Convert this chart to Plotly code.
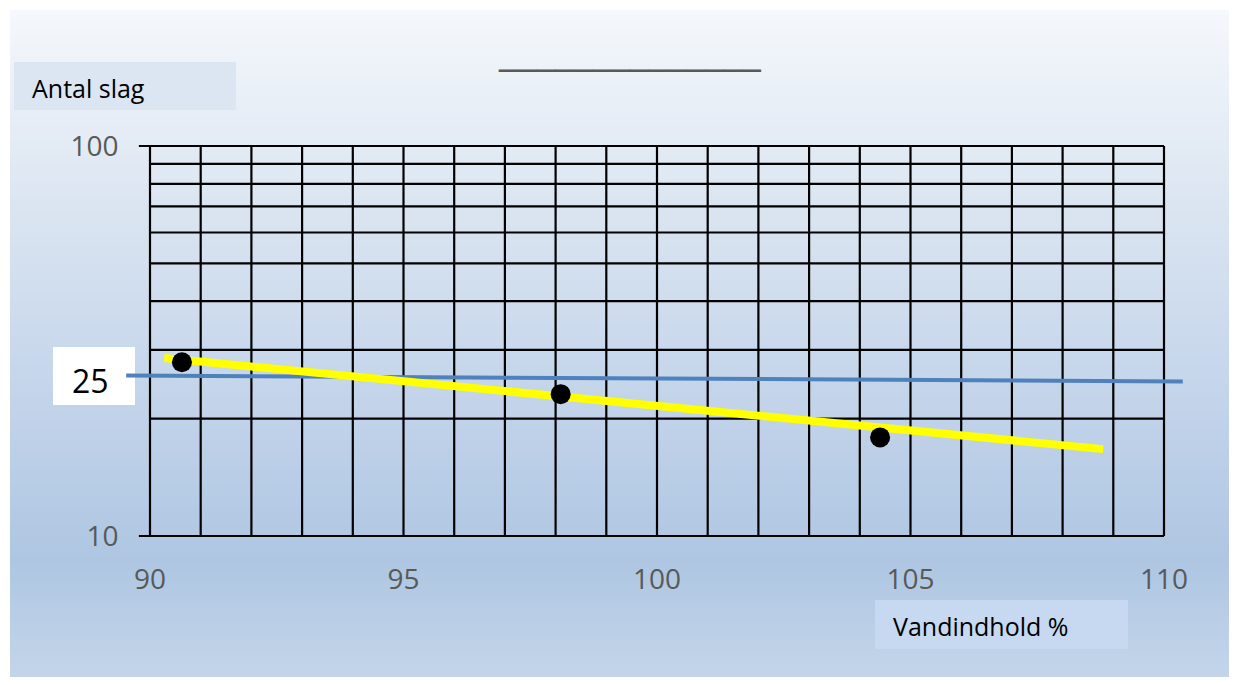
import plotly.graph_objects as go

# ---- data ----
moisture = [90.63, 98.1, 104.4]          # Vandindhold %
blows = [27.9, 23.1, 17.9]               # Antal slag
trend_x = [90.28, 108.8]
trend_y = [28.6, 16.7]
ref_x = [89.53, 110.37]
ref_y = [25.8, 24.9]
x_ticks = [90, 95, 100, 105, 110]
y_ticks = [10, 100]
grid_x = list(range(90, 111))
grid_y = [10, 20, 30, 40, 50, 60, 70, 80, 90, 100]

OFF = 8                      # page body margin
W, H = 1237 - 2 * OFF, 685 - 2 * OFF
FONT = "Open Sans"

def fx(px):   # page pixel -> paper x
    return (px - OFF) / W

def fy(py):   # page pixel -> paper y
    return 1 - (py - OFF) / H

# pixel calibration (page pixels)
px90, px110 = 150, 1164
ppu = (px110 - px90) / 20
xr = [89.4, 110.5]
xl = px90 + (xr[0] - 90) * ppu
xrgt = px90 + (xr[1] - 90) * ppu
py10, py100 = 536, 146
ppd = py10 - py100
yr = [0.98, 2.02]
ytop = py100 - (yr[1] - 2) * ppd
ybot = py10 + (1 - yr[0]) * ppd

fig = go.Figure()

# grid
gx, gy = [], []
for v in grid_x:
    gx += [v, v, None]
    gy += [10, 100, None]
for v in grid_y:
    x0 = 89.78 if v in (10, 100) else 90
    gx += [x0, 110, None]
    gy += [v, v, None]
fig.add_trace(go.Scatter(x=gx, y=gy, mode="lines", line=dict(color="black", width=2.2),
                         hoverinfo="skip", showlegend=False))

fig.add_trace(go.Scatter(x=ref_x, y=ref_y, mode="lines", line=dict(color="#4f81bd", width=4),
                         showlegend=False))
fig.add_trace(go.Scatter(x=trend_x, y=trend_y, mode="lines", line=dict(color="#ffff00", width=8),
                         showlegend=False))
fig.add_trace(go.Scatter(x=moisture, y=blows, mode="markers",
                         marker=dict(color="black", size=20), showlegend=False))

# background gradient strips
stops = [(10, (0xf5, 0xf8, 0xfc)), (100, (0xe9, 0xef, 0xf7)), (250, (0xd5, 0xe1, 0xef)),
         (400, (0xc3, 0xd4, 0xea)), (560, (0xae, 0xc6, 0xe2)), (700, (0xc8, 0xd8, 0xeb))]

def col(y):
    for (y0, c0), (y1, c1) in zip(stops[:-1], stops[1:]):
        if y0 <= y <= y1:
            t = (y - y0) / (y1 - y0)
            return "rgb(%d,%d,%d)" % tuple(round(a + (b - a) * t) for a, b in zip(c0, c1))
    return "rgb(200,216,235)"

shapes = []
step = 5
y = 10
while y < OFF + H:
    y2 = y + step
    shapes.append(dict(type="rect", xref="paper", yref="paper", layer="below",
                       x0=fx(10), x1=1, y0=max(fy(y2 + 0.5), 0), y1=fy(y),
                       fillcolor=col(y + step / 2), line=dict(width=0)))
    y = y2

def prect(x0, y0, x1, y1, fill):
    return dict(type="rect", xref="paper", yref="paper", layer="below",
                x0=fx(x0), x1=fx(x1), y0=fy(y1), y1=fy(y0),
                fillcolor=fill, line=dict(width=0))

shapes.append(prect(14, 62, 236, 110, "#dce6f2"))
shapes.append(prect(875, 600, 1128, 649, "#c6d9f1"))
shapes.append(prect(53, 347, 135, 405, "#ffffff"))

def ann(text, x, y, size, color="black", xanchor="left", yanchor="middle", bold=False, family=FONT):
    return dict(text=("<b>%s</b>" % text) if bold else text, xref="paper", yref="paper",
                x=fx(x), y=fy(y), xanchor=xanchor, yanchor=yanchor, showarrow=False,
                font=dict(size=size, color=color, family=family))

annotations = [
    ann("Antal slag", 30, 88, 25),
    ann("Vandindhold %", 891, 626, 25),
    ann("25", 90, 380, 32, xanchor="center"),
    ann("______________", 630, 50, 37.4, color="#595959", xanchor="center", family="DejaVu Sans"),
    ann("Flydegrænse, w<sub>L</sub> =", -30, 12, 34, yanchor="bottom", bold=True),
]

fig.update_layout(
    width=W, height=H,
    margin=dict(l=0, r=0, t=0, b=0),
    paper_bgcolor="white", plot_bgcolor="rgba(0,0,0,0)",
    shapes=shapes, annotations=annotations,
    xaxis=dict(range=xr, domain=[fx(xl), fx(xrgt)], showgrid=False, zeroline=False,
               showline=False, tickvals=x_ticks, ticks="", ticklabelstandoff=16,
               automargin=False,
               tickfont=dict(family=FONT, size=28, color="#595959")),
    yaxis=dict(type="log", range=yr, domain=[fy(ybot), fy(ytop)], showgrid=False,
               zeroline=False, showline=False, tickvals=y_ticks, ticktext=["10", "100"],
               ticks="", ticklabelstandoff=0, automargin=False,
               tickfont=dict(family=FONT, size=28, color="#595959")),
    showlegend=False,
)

fig.write_html("out.html")
